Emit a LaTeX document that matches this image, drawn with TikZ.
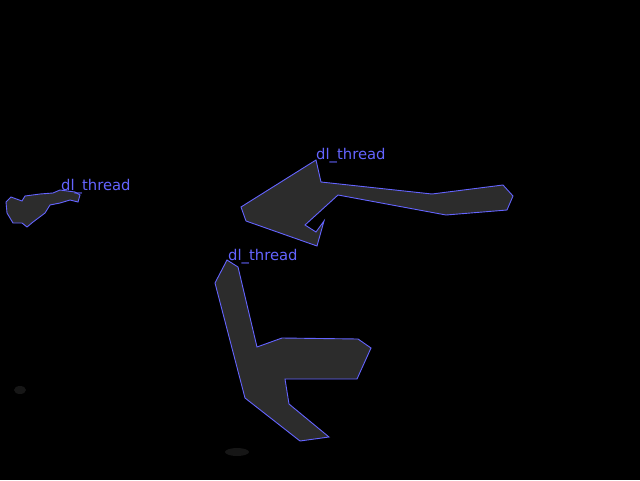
\documentclass[tikz,border=0pt]{standalone}
\usepackage{fontspec}
\newfontfamily\labfont{DejaVu Sans}
\definecolor{outl}{RGB}{100,100,255}
\definecolor{blob}{RGB}{44,44,44}
\definecolor{faint}{RGB}{22,22,22}
\tikzset{
  region/.style={draw=outl, line width=0.9pt, fill=blob, line join=miter},
  lab/.style={text=outl, font=\labfont\fontsize{14.8}{16}\selectfont, anchor=base west, inner sep=0pt},
}
\begin{document}
\begin{tikzpicture}[x=1pt,y=-1pt]
\fill[black] (0,0) rectangle (640,480);
\useasboundingbox (0,0) rectangle (640,480);
% faint spots
\fill[faint] (237,452) ellipse (12 and 4);
\fill[faint] (20,390) ellipse (6 and 4);
% left region
\draw[region] (6,202) -- (11,197) -- (22,201) -- (25,196) -- (40,194) -- (53,193) -- (60,190)
  -- (75,192) -- (80,195) -- (78,202) -- (70,200) -- (60,203) -- (50,205) -- (45,213)
  -- (33,222) -- (27,227) -- (22,223) -- (13,223) -- (7,213) -- cycle;
% upper right region
\draw[region] (316,160) -- (321,182) -- (432,194) -- (503,185) -- (513,196) -- (507,210)
  -- (446,215) -- (338,195) -- (305,225) -- (316,232) -- (324,221) -- (317,246)
  -- (246,221) -- (241,207) -- cycle;
% lower region
\draw[region] (227,260) -- (238,267) -- (257,347) -- (282,338) -- (358,339) -- (371,348)
  -- (357,379) -- (285,379) -- (289,404) -- (329,437) -- (300,441) -- (245,398)
  -- (215,283) -- cycle;
% labels
\node[lab] (l1) at (61,190) {dl\_thread};
\node[lab] (l2) at (316,159) {dl\_thread};
\node[lab] (l3) at (228,260) {dl\_thread};
\end{tikzpicture}
\end{document}
